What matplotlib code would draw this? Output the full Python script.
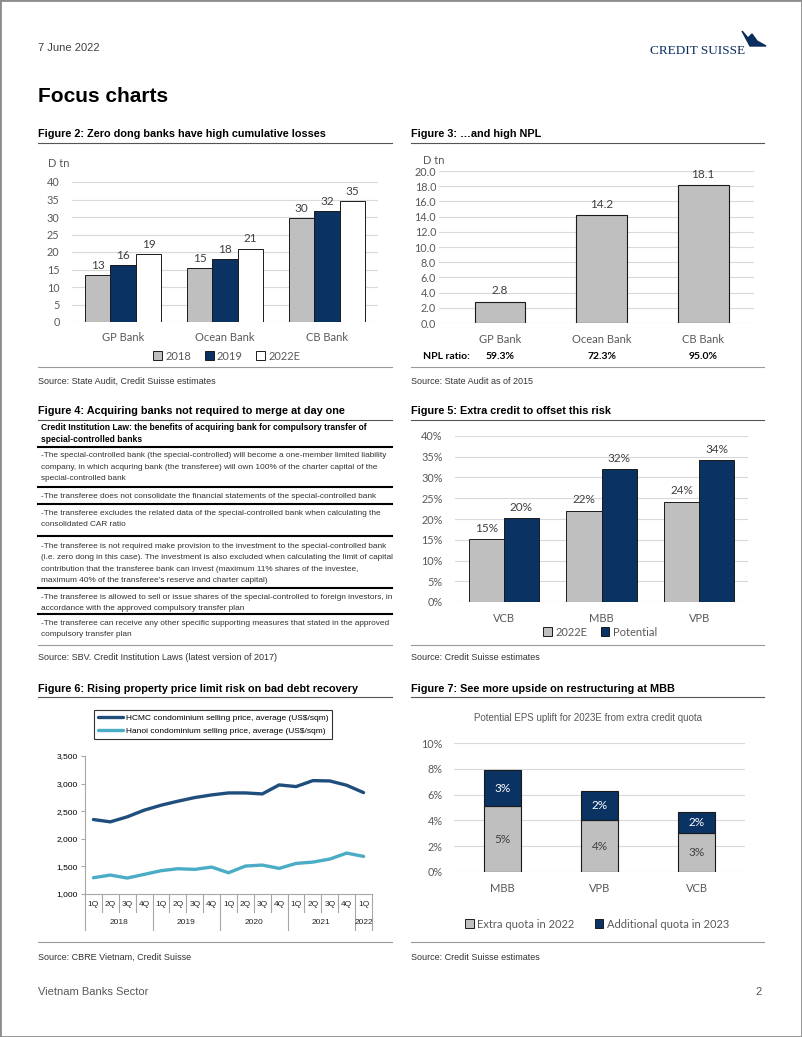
import matplotlib
matplotlib.use("Agg")
import matplotlib.pyplot as plt
import matplotlib.transforms as mtrans
from matplotlib import font_manager
from matplotlib.lines import Line2D
from matplotlib.patches import Patch, Rectangle, Polygon
import numpy as np

# ---- data ----
fig2_banks = ["GP Bank", "Ocean Bank", "CB Bank"]
fig2_years = ["2018", "2019", "2022E"]
fig2_2018 = [13.4, 15.4, 29.7]
fig2_2019 = [16.3, 18.0, 31.8]
fig2_2022e = [19.3, 21.0, 34.6]

fig3_banks = ["GP Bank", "Ocean Bank", "CB Bank"]
fig3_npl = [2.8, 14.2, 18.1]
fig3_npl_ratio = [59.3, 72.3, 95.0]

fig5_banks = ["VCB", "MBB", "VPB"]
fig5_2022e = [15.1, 22.0, 24.1]
fig5_potential = [20.2, 32.0, 34.2]

fig6_quarters = ["1Q", "2Q", "3Q", "4Q"] * 4 + ["1Q"]
fig6_years = ["2018", "2019", "2020", "2021", "2022"]
fig6_hcmc = [2349, 2307, 2398, 2518, 2608, 2681, 2747, 2795, 2831,
             2831, 2813, 2976, 2946, 3054, 3048, 2970, 2837]
fig6_hanoi = [1295, 1343, 1289, 1355, 1422, 1458, 1446, 1488, 1385,
              1506, 1524, 1464, 1554, 1578, 1633, 1741, 1681]

fig7_banks = ["MBB", "VPB", "VCB"]
fig7_extra_2022 = [5.1, 4.0, 3.0]
fig7_add_2023 = [2.8, 2.3, 1.65]

table_header = ["Credit Institution Law: the benefits of acquiring bank for compulsory transfer of",
                "special-controlled banks"]
table_rows = [
    ["-The special-controlled bank (the special-controlled) will become a one-member limited liability",
     "company, in which acquring bank (the transferee) will own 100% of the charter capital of the",
     "special-controlled bank"],
    ["-The transferee does not consolidate the financial statements of the special-controlled bank"],
    ["-The transferee excludes the related data of the special-controlled bank when calculating the",
     "consolidated CAR ratio"],
    ["-The transferee is not required make provision to the investment to the special-controlled bank",
     "(i.e. zero dong in this case). The investment is also excluded when calculating the limit of capital",
     "contribution that the transferee bank can invest (maximum 11% shares of the investee,",
     "maximum 40% of the transferee\u2019s reserve and charter capital)"],
    ["-The transferee is allowed to sell or issue shares of the special-controlled to foreign investors, in",
     "accordance with the approved compulsory transfer plan"],
    ["-The transferee can receive any other specific supporting measures that stated in the approved",
     "compulsory transfer plan"],
]


def has_font(name):
    try:
        font_manager.findfont(name, fallback_to_default=False)
        return True
    except ValueError:
        return False


NAVY = "#0A3263"
GREY = "#BFBFBF"
EDGE = "#1A1A1A"
GRID = "#D9D9D9"
TICK = "#595959"
XL = "Lato"  # stand-in for Calibri
HV = "Liberation Sans"
NARROW = "Liberation Sans Narrow" if has_font("Liberation Sans Narrow") else None

W, H = 802, 1037
fig = plt.figure(figsize=(W / 100, H / 100), dpi=100)


def fx(x):
    return x / W


def fy(y):
    return 1 - y / H


def px_axes(x0, y0, x1, y1):
    return fig.add_axes([x0 / W, 1 - y1 / H, (x1 - x0) / W, (y1 - y0) / H])


def ftext(x, y, s, **kw):
    kw.setdefault("va", "center")
    kw.setdefault("family", HV)
    return fig.text(fx(x), fy(y), s, **kw)


def hline(y, x0, x1, color="#555555", lw=0.8):
    fig.add_artist(Line2D([fx(x0), fx(x1)], [fy(y), fy(y)], color=color, lw=lw,
                          transform=fig.transFigure))


def excel_style(ax, ypad):
    for s in ax.spines.values():
        s.set_visible(False)
    ax.grid(axis="y", color=GRID, lw=0.8)
    ax.set_axisbelow(True)
    ax.tick_params(axis="y", length=0, pad=ypad, labelsize=7.8, labelcolor=TICK)
    ax.tick_params(axis="x", length=0, pad=8, labelsize=8, labelcolor=TICK)
    for lab in ax.get_xticklabels() + ax.get_yticklabels():
        lab.set_family(XL)


LBL = 8.5  # data label size

# ---- page furniture ----
fig.add_artist(Rectangle((0, 0), 1, 1, transform=fig.transFigure, fill=False,
                         edgecolor="#8C8C8C", lw=2))
ftext(38, 48, "7 June 2022", fontsize=8, color="#404040")
ftext(745, 51, "CREDIT SUISSE", fontsize=9.5, color="#0A2D5E", ha="right",
      family="Liberation Serif")
sail = Polygon([[fx(742), fy(31)], [fx(748), fy(38)], [fx(752), fy(34)],
                [fx(757), fy(41)], [fx(766), fy(46)], [fx(750), fy(46)]],
               closed=True, transform=fig.transFigure, color="#0A2D5E")
fig.add_artist(sail)
ftext(38, 97, "Focus charts", fontsize=15, fontweight="bold", color="black")
ftext(38, 992, "Vietnam Banks Sector", fontsize=8, color="#595959")
ftext(762, 992, "2", fontsize=8, color="#595959", ha="right")

title_kw = dict(fontsize=7.8, fontweight="bold", color="black")
src_kw = dict(fontsize=6.5, color="#333333")

# row 1
ftext(38, 134, "Figure 2: Zero dong banks have high cumulative losses", **title_kw)
ftext(411, 134, "Figure 3: \u2026and high NPL", **title_kw)
hline(143, 38, 392)
hline(143, 411, 764)
hline(367, 38, 392, color="#999999")
hline(367, 411, 764, color="#999999")
ftext(38, 381, "Source: State Audit, Credit Suisse estimates", **src_kw)
ftext(411, 381, "Source: State Audit as of 2015", **src_kw)

# row 2
ftext(38, 411, "Figure 4: Acquiring banks not required to merge at day one", **title_kw)
ftext(411, 411, "Figure 5: Extra credit to offset this risk", **title_kw)
hline(420, 38, 392)
hline(420, 411, 764)
hline(645, 38, 392, color="#999999")
hline(645, 411, 764, color="#999999")
ftext(38, 658, "Source: SBV. Credit Institution Laws (latest version of 2017)", **src_kw)
ftext(411, 658, "Source: Credit Suisse estimates", **src_kw)

# row 3
ftext(38, 689, "Figure 6: Rising property price limit risk on bad debt recovery", **title_kw)
ftext(411, 689, "Figure 7: See more upside on restructuring at MBB", **title_kw)
hline(697, 38, 392)
hline(697, 411, 764)
hline(942, 38, 392, color="#999999")
hline(942, 411, 764, color="#999999")
ftext(38, 957, "Source: CBRE Vietnam, Credit Suisse", **src_kw)
ftext(411, 957, "Source: Credit Suisse estimates", **src_kw)

# ---- Figure 2 ----
ax2 = px_axes(72, 182, 378, 322)
x = np.arange(len(fig2_banks))
bw = 0.25
series2 = [(fig2_2018, GREY), (fig2_2019, NAVY), (fig2_2022e, "white")]
for k, (vals, col) in enumerate(series2):
    bars = ax2.bar(x + (k - 1) * bw, vals, bw, color=col, edgecolor=EDGE, lw=0.7)
    for b, v in zip(bars, vals):
        ax2.annotate(f"{v:.0f}", (b.get_x() + bw / 2, v), xytext=(0, 3),
                     textcoords="offset points", ha="center", va="bottom",
                     fontsize=LBL, color="#404040", family=XL)
ax2.set_ylim(0, 40)
ax2.set_yticks(range(0, 41, 5))
ax2.set_xlim(-0.5, 2.5)
ax2.set_xticks(x, fig2_banks)
excel_style(ax2, 9)
ax2.tick_params(axis="x", pad=7)
ftext(48, 164, "D tn", fontsize=8, color=TICK, family=XL)
handles2 = [Patch(facecolor=c, edgecolor=EDGE, lw=0.7) for _, c in series2]
fig.legend(handles2, fig2_years, loc="center", bbox_to_anchor=(fx(227), fy(356)),
           ncol=3, frameon=False, handlelength=0.8, handleheight=0.8,
           handletextpad=0.3, columnspacing=1.2,
           prop={"family": XL, "size": 8}, labelcolor=TICK)

# ---- Figure 3 ----
ax3 = px_axes(439, 171, 754, 323)
x = np.arange(len(fig3_banks))
bars = ax3.bar(x, fig3_npl, 0.5, color=GREY, edgecolor=EDGE, lw=0.8)
for b, v in zip(bars, fig3_npl):
    ax3.annotate(f"{v:.1f}", (b.get_x() + 0.25, v), xytext=(0, 4),
                 textcoords="offset points", ha="center", va="bottom",
                 fontsize=LBL, color="#404040", family=XL)
ax3.set_ylim(0, 20)
ax3.set_yticks(range(0, 21, 2), [f"{v:.1f}" for v in range(0, 21, 2)])
ax3.set_xlim(-0.6, 2.5)
ax3.set_xticks(x, fig3_banks)
excel_style(ax3, 2)
ftext(423, 161, "D tn", fontsize=8, color=TICK, family=XL)
blend3 = mtrans.blended_transform_factory(ax3.transData, fig.transFigure)
ftext(423, 357, "NPL ratio:", fontsize=7.5, fontweight="bold", family=XL, color="black")
for xi, r in zip(x, fig3_npl_ratio):
    ax3.text(xi, fy(357), f"{r:.1f}%", transform=blend3, ha="center", va="center",
             fontsize=7.5, fontweight="bold", family=XL, color="black")

# ---- Figure 4 (table) ----
if NARROW:
    tfam, tsize, hsize = NARROW, 6.9, 7.2
else:
    tfam, tsize, hsize = HV, 5.95, 6.15
ftext(41, 428, table_header[0], fontsize=hsize, fontweight="bold", family=tfam)
ftext(41, 439.5, table_header[1], fontsize=hsize, fontweight="bold", family=tfam)
row_starts = [456, 496.5, 513.5, 546.5, 597.5, 623.5]
row_lines = [447, 487, 504, 536, 588, 614]
for y0, rows in zip(row_starts, table_rows):
    for i, line in enumerate(rows):
        ftext(41, y0 + i * 11.3, line, fontsize=tsize, family=tfam, color="#333333")
for yl in row_lines:
    hline(yl, 38, 392, color="black", lw=1.5)

# ---- Figure 5 ----
ax5 = px_axes(455, 436, 748, 602)
x = np.arange(len(fig5_banks))
bw = 0.36
for k, (vals, col) in enumerate([(fig5_2022e, GREY), (fig5_potential, NAVY)]):
    bars = ax5.bar(x + (k - 0.5) * bw, vals, bw, color=col, edgecolor=EDGE, lw=0.7)
    for b, v in zip(bars, vals):
        ax5.annotate(f"{v:.0f}%", (b.get_x() + bw / 2, v), xytext=(0, 4),
                     textcoords="offset points", ha="center", va="bottom",
                     fontsize=LBL, color="#404040", family=XL)
ax5.set_ylim(0, 40)
ax5.set_yticks(range(0, 41, 5), [f"{v}%" for v in range(0, 41, 5)])
ax5.set_xlim(-0.5, 2.5)
ax5.set_xticks(x, fig5_banks)
excel_style(ax5, 9)
handles5 = [Patch(facecolor=GREY, edgecolor=EDGE, lw=0.7),
            Patch(facecolor=NAVY, edgecolor=EDGE, lw=0.7)]
fig.legend(handles5, ["2022E", "Potential"], loc="center",
           bbox_to_anchor=(fx(600), fy(632)), ncol=2, frameon=False,
           handlelength=0.8, handleheight=0.8, handletextpad=0.3, columnspacing=1.2,
           prop={"family": XL, "size": 8}, labelcolor=TICK)

# ---- Figure 6 ----
ax6 = px_axes(85, 756, 372, 894)
xq = np.arange(len(fig6_hcmc))
l1, = ax6.plot(xq, fig6_hcmc, color="#1F4E7D", lw=2.4, solid_joinstyle="round",
               solid_capstyle="round")
l2, = ax6.plot(xq, fig6_hanoi, color="#4BACC6", lw=2.4, solid_joinstyle="round",
               solid_capstyle="round")
ax6.set_ylim(1000, 3500)
ax6.set_xlim(-0.5, len(xq) - 0.5)
ax6.set_yticks(range(1000, 3501, 500), [f"{v:,}" for v in range(1000, 3501, 500)])
ax6.set_xticks([])
for s in ["top", "right"]:
    ax6.spines[s].set_visible(False)
for s in ["left", "bottom"]:
    ax6.spines[s].set_color("#A6A6A6")
    ax6.spines[s].set_linewidth(0.8)
lfam = NARROW if NARROW else HV
lsize = 6.8 if NARROW else 6.05
ax6.tick_params(axis="y", length=3, color="#A6A6A6", pad=2, labelsize=lsize)
for lab in ax6.get_yticklabels():
    lab.set_family(lfam)
blend6 = mtrans.blended_transform_factory(ax6.transData, fig.transFigure)
for i, q in enumerate(fig6_quarters):
    ax6.text(i, fy(905), q, transform=blend6, ha="center", va="center",
             fontsize=lsize, family=lfam, color="#262626")
year_bounds = [-0.5, 3.5, 7.5, 11.5, 15.5, 16.5]
for b in np.arange(-0.5, len(xq), 1.0):
    bottom = 930 if b in year_bounds else 912
    ax6.plot([b, b], [fy(894), fy(bottom)], transform=blend6, color="#A6A6A6",
             lw=0.8, clip_on=False)
for yr, a, b in zip(fig6_years, year_bounds[:-1], year_bounds[1:]):
    ax6.text((a + b) / 2, fy(923), yr, transform=blend6, ha="center", va="center",
             fontsize=lsize, family=lfam, color="#262626")
leg6 = fig.legend([l1, l2], ["HCMC condominium selling price, average (US$/sqm)",
                             "Hanoi condominium selling price, average (US$/sqm)"],
                  loc="center", bbox_to_anchor=(fx(213), fy(724.5)), frameon=True,
                  fancybox=False, edgecolor="black", handlelength=3.0,
                  handletextpad=0.3, borderpad=0.45, labelspacing=0.6,
                  prop={"family": lfam, "size": lsize})
leg6.get_frame().set_linewidth(0.8)

# ---- Figure 7 ----
ax7 = px_axes(454, 743, 745, 872)
x = np.arange(len(fig7_banks))
bw = 0.39
b1 = ax7.bar(x, fig7_extra_2022, bw, color=GREY, edgecolor=EDGE, lw=0.8)
b2 = ax7.bar(x, fig7_add_2023, bw, bottom=fig7_extra_2022, color=NAVY,
             edgecolor=EDGE, lw=0.8)
for xi, v1, v2 in zip(x, fig7_extra_2022, fig7_add_2023):
    ax7.text(xi, v1 / 2, f"{v1:.0f}%", ha="center", va="center", fontsize=LBL,
             color="#404040", family=XL)
    ax7.text(xi, v1 + v2 / 2, f"{v2:.0f}%", ha="center", va="center", fontsize=LBL,
             color="white", family=XL)
ax7.set_ylim(0, 10)
ax7.set_yticks(range(0, 11, 2), [f"{v}%" for v in range(0, 11, 2)])
ax7.set_xlim(-0.5, 2.5)
ax7.set_xticks(x, fig7_banks)
excel_style(ax7, 8)
ftext(588, 718, "Potential EPS uplift for 2023E from extra credit quota",
      fontsize=7, color="#595959", ha="center")
handles7 = [Patch(facecolor=GREY, edgecolor=EDGE, lw=0.7),
            Patch(facecolor=NAVY, edgecolor=EDGE, lw=0.7)]
fig.legend(handles7, ["Extra quota in 2022", "Additional quota in 2023"], loc="center",
           bbox_to_anchor=(fx(597), fy(924)), ncol=2, frameon=False,
           handlelength=0.8, handleheight=0.8, handletextpad=0.3, columnspacing=1.8,
           prop={"family": XL, "size": 8}, labelcolor=TICK)

fig.savefig("out.png", dpi=100)
